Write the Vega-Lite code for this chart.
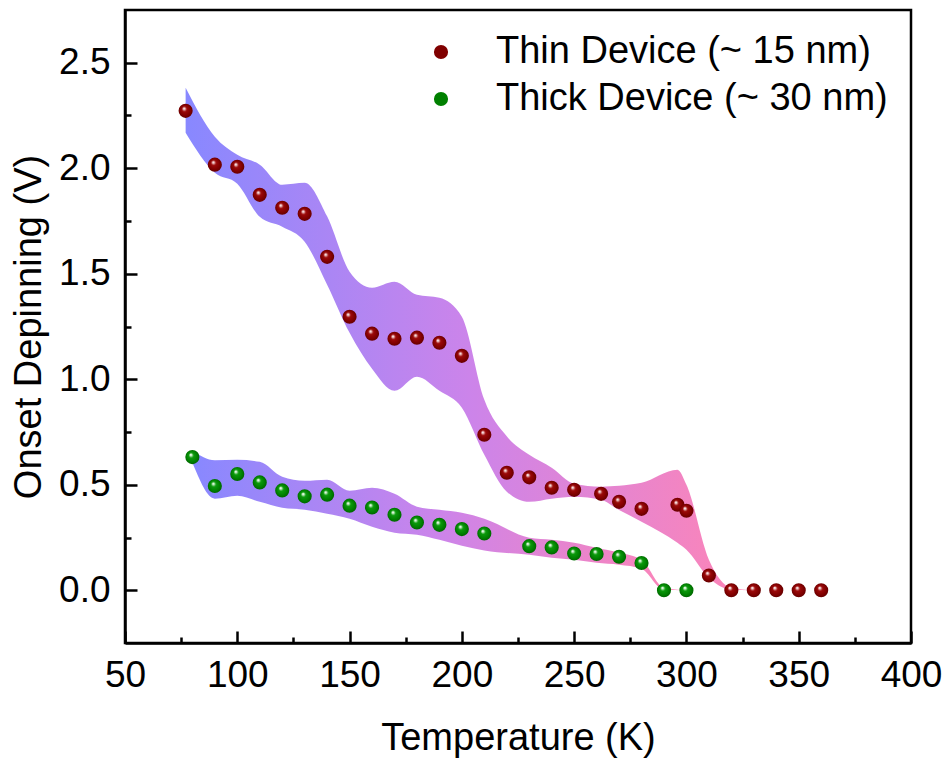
{
  "$schema": "https://vega.github.io/schema/vega-lite/v6.json",
  "width": 786,
  "height": 633,
  "autosize": {"type": "none"},
  "padding": {"left": 125, "top": 10, "right": 39, "bottom": 119},
  "background": "white",
  "config": {
    "view": {"stroke": "black", "strokeWidth": 2.5},
    "font": "Liberation Sans",
    "axis": {
      "domainColor": "black",
      "domainWidth": 2.5,
      "tickColor": "black",
      "tickWidth": 2.5,
      "grid": false,
      "labelFont": "Liberation Sans",
      "labelColor": "black",
      "titleFont": "Liberation Sans",
      "titleColor": "black",
      "titleFontWeight": "normal"
    },
    "legend": {
      "title": null,
      "orient": "none",
      "legendX": 297,
      "legendY": 23,
      "labelFont": "Liberation Sans",
      "labelFontSize": 38,
      "labelColor": "black",
      "labelOffset": 36,
      "labelLimit": 600,
      "symbolSize": 200,
      "symbolType": "circle",
      "symbolStrokeWidth": 0,
      "symbolOpacity": 1,
      "rowPadding": 9,
      "padding": 0
    }
  },
  "data": {
    "values": [
      {"device": "Thin Device (~ 15 nm)", "T": 77, "V": 2.272, "lo": 2.168, "hi": 2.381},
      {"device": "Thin Device (~ 15 nm)", "T": 90, "V": 2.017, "lo": 1.979, "hi": 2.149},
      {"device": "Thin Device (~ 15 nm)", "T": 100, "V": 2.007, "lo": 1.927, "hi": 2.064},
      {"device": "Thin Device (~ 15 nm)", "T": 110, "V": 1.874, "lo": 1.77, "hi": 2.017},
      {"device": "Thin Device (~ 15 nm)", "T": 120, "V": 1.813, "lo": 1.723, "hi": 1.922},
      {"device": "Thin Device (~ 15 nm)", "T": 130, "V": 1.784, "lo": 1.652, "hi": 1.931},
      {"device": "Thin Device (~ 15 nm)", "T": 140, "V": 1.58, "lo": 1.448, "hi": 1.772},
      {"device": "Thin Device (~ 15 nm)", "T": 150, "V": 1.296, "lo": 1.22, "hi": 1.51},
      {"device": "Thin Device (~ 15 nm)", "T": 160, "V": 1.216, "lo": 1.05, "hi": 1.434},
      {"device": "Thin Device (~ 15 nm)", "T": 170, "V": 1.192, "lo": 0.945, "hi": 1.462},
      {"device": "Thin Device (~ 15 nm)", "T": 180, "V": 1.197, "lo": 1.012, "hi": 1.4},
      {"device": "Thin Device (~ 15 nm)", "T": 190, "V": 1.173, "lo": 0.945, "hi": 1.386},
      {"device": "Thin Device (~ 15 nm)", "T": 200, "V": 1.111, "lo": 0.865, "hi": 1.296},
      {"device": "Thin Device (~ 15 nm)", "T": 210, "V": 0.737, "lo": 0.642, "hi": 0.903},
      {"device": "Thin Device (~ 15 nm)", "T": 220, "V": 0.557, "lo": 0.467, "hi": 0.73},
      {"device": "Thin Device (~ 15 nm)", "T": 230, "V": 0.535, "lo": 0.419, "hi": 0.642},
      {"device": "Thin Device (~ 15 nm)", "T": 240, "V": 0.486, "lo": 0.434, "hi": 0.581},
      {"device": "Thin Device (~ 15 nm)", "T": 250, "V": 0.476, "lo": 0.443, "hi": 0.505},
      {"device": "Thin Device (~ 15 nm)", "T": 262, "V": 0.457, "lo": 0.429, "hi": 0.491},
      {"device": "Thin Device (~ 15 nm)", "T": 270, "V": 0.419, "lo": 0.38, "hi": 0.495},
      {"device": "Thin Device (~ 15 nm)", "T": 280, "V": 0.386, "lo": 0.325, "hi": 0.509},
      {"device": "Thin Device (~ 15 nm)", "T": 296, "V": 0.405, "lo": 0.225, "hi": 0.571},
      {"device": "Thin Device (~ 15 nm)", "T": 300, "V": 0.377, "lo": 0.192, "hi": 0.5},
      {"device": "Thin Device (~ 15 nm)", "T": 310, "V": 0.07, "lo": 0.059, "hi": 0.145},
      {"device": "Thin Device (~ 15 nm)", "T": 320, "V": 0, "lo": 0.002, "hi": 0.012},
      {"device": "Thin Device (~ 15 nm)", "T": 330, "V": 0, "lo": 0, "hi": 0},
      {"device": "Thin Device (~ 15 nm)", "T": 340, "V": 0, "lo": null, "hi": null},
      {"device": "Thin Device (~ 15 nm)", "T": 350, "V": 0, "lo": null, "hi": null},
      {"device": "Thin Device (~ 15 nm)", "T": 360, "V": 0, "lo": null, "hi": null},
      {"device": "Thick Device (~ 30 nm)", "T": 80, "V": 0.631, "lo": 0.605, "hi": 0.661},
      {"device": "Thick Device (~ 30 nm)", "T": 90, "V": 0.494, "lo": 0.434, "hi": 0.616},
      {"device": "Thick Device (~ 30 nm)", "T": 100, "V": 0.551, "lo": 0.448, "hi": 0.618},
      {"device": "Thick Device (~ 30 nm)", "T": 110, "V": 0.511, "lo": 0.419, "hi": 0.609},
      {"device": "Thick Device (~ 30 nm)", "T": 120, "V": 0.473, "lo": 0.391, "hi": 0.538},
      {"device": "Thick Device (~ 30 nm)", "T": 130, "V": 0.445, "lo": 0.382, "hi": 0.519},
      {"device": "Thick Device (~ 30 nm)", "T": 140, "V": 0.453, "lo": 0.363, "hi": 0.524},
      {"device": "Thick Device (~ 30 nm)", "T": 150, "V": 0.401, "lo": 0.339, "hi": 0.472},
      {"device": "Thick Device (~ 30 nm)", "T": 160, "V": 0.392, "lo": 0.301, "hi": 0.486},
      {"device": "Thick Device (~ 30 nm)", "T": 170, "V": 0.358, "lo": 0.273, "hi": 0.457},
      {"device": "Thick Device (~ 30 nm)", "T": 180, "V": 0.321, "lo": 0.263, "hi": 0.396},
      {"device": "Thick Device (~ 30 nm)", "T": 190, "V": 0.31, "lo": 0.239, "hi": 0.381},
      {"device": "Thick Device (~ 30 nm)", "T": 200, "V": 0.29, "lo": 0.211, "hi": 0.367},
      {"device": "Thick Device (~ 30 nm)", "T": 210, "V": 0.269, "lo": 0.188, "hi": 0.339},
      {"device": "Thick Device (~ 30 nm)", "T": 230, "V": 0.209, "lo": 0.168, "hi": 0.249},
      {"device": "Thick Device (~ 30 nm)", "T": 240, "V": 0.203, "lo": 0.154, "hi": 0.239},
      {"device": "Thick Device (~ 30 nm)", "T": 250, "V": 0.174, "lo": 0.145, "hi": 0.225},
      {"device": "Thick Device (~ 30 nm)", "T": 260, "V": 0.172, "lo": 0.13, "hi": 0.201},
      {"device": "Thick Device (~ 30 nm)", "T": 270, "V": 0.159, "lo": 0.121, "hi": 0.178},
      {"device": "Thick Device (~ 30 nm)", "T": 280, "V": 0.129, "lo": 0.102, "hi": 0.145},
      {"device": "Thick Device (~ 30 nm)", "T": 290, "V": 0, "lo": 0.002, "hi": 0.012},
      {"device": "Thick Device (~ 30 nm)", "T": 300, "V": 0, "lo": 0, "hi": 0}
    ]
  },
  "resolve": {"axis": {"x": "independent", "y": "independent"}},
  "layer": [
    {
      "transform": [{"filter": "isValid(datum.hi)"}],
      "mark": {
        "type": "area",
        "interpolate": "monotone",
        "fill": {
          "gradient": "linear",
          "x1": 0, "y1": 0, "x2": 1, "y2": 0,
          "stops": [
            {"offset": 0, "color": "#8888ff"},
            {"offset": 0.5, "color": "#cc84ea"},
            {"offset": 1, "color": "#ff85b5"}
          ]
        }
      },
      "encoding": {
        "x": {
          "field": "T", "type": "quantitative",
          "scale": {"domain": [50, 400], "nice": false, "zero": false},
          "axis": {
            "orient": "bottom",
            "title": "Temperature (K)",
            "titleFontSize": 38,
            "titlePadding": 26,
            "values": [50, 100, 150, 200, 250, 300, 350, 400],
            "labelFontSize": 37,
            "labelPadding": 26,
            "tickSize": -12,
            "labelFlush": false,
            "labelOverlap": false
          }
        },
        "y": {
          "field": "lo", "type": "quantitative",
          "scale": {"domain": [-0.25, 2.75], "nice": false, "zero": false},
          "axis": {
            "orient": "left",
            "title": "Onset Depinning (V)",
            "titleFontSize": 38,
            "titlePadding": 10,
            "values": [0, 0.5, 1, 1.5, 2, 2.5],
            "format": ".1f",
            "labelFontSize": 37,
            "labelPadding": 27,
            "tickSize": -12,
            "labelOverlap": false
          }
        },
        "y2": {"field": "hi"},
        "detail": {"field": "device"}
      }
    },
    {
      "mark": {"type": "tick", "opacity": 0},
      "encoding": {
        "x": {
          "field": "T", "type": "quantitative",
          "axis": {
            "orient": "bottom",
            "title": null,
            "labels": false,
            "domain": false,
            "values": [75, 125, 175, 225, 275, 325, 375],
            "tickSize": -6
          }
        },
        "y": {
          "field": "V", "type": "quantitative",
          "axis": {
            "orient": "left",
            "title": null,
            "labels": false,
            "domain": false,
            "values": [0.25, 0.75, 1.25, 1.75, 2.25],
            "tickSize": -6
          }
        }
      }
    },
    {
      "transform": [{"filter": "datum.device === 'Thin Device (~ 15 nm)'"}],
      "mark": {
        "type": "point", "filled": true, "size": 200, "opacity": 1, "strokeWidth": 0,
        "fill": {
          "gradient": "radial",
          "x1": 0.38, "y1": 0.32, "r1": 0,
          "x2": 0.5, "y2": 0.5, "r2": 0.55,
          "stops": [
            {"offset": 0, "color": "#ffffff"},
            {"offset": 0.1, "color": "#f4d6d6"},
            {"offset": 0.32, "color": "#9c0a0a"},
            {"offset": 0.7, "color": "#800000"},
            {"offset": 1, "color": "#5c0000"}
          ]
        }
      },
      "encoding": {
        "x": {"field": "T", "type": "quantitative", "axis": null},
        "y": {"field": "V", "type": "quantitative", "axis": null},
        "color": {
          "field": "device", "type": "nominal",
          "scale": {
            "domain": ["Thin Device (~ 15 nm)", "Thick Device (~ 30 nm)"],
            "range": ["#800000", "#008000"]
          }
        }
      }
    },
    {
      "transform": [{"filter": "datum.device === 'Thick Device (~ 30 nm)'"}],
      "mark": {
        "type": "point", "filled": true, "size": 200, "opacity": 1, "strokeWidth": 0,
        "fill": {
          "gradient": "radial",
          "x1": 0.38, "y1": 0.32, "r1": 0,
          "x2": 0.5, "y2": 0.5, "r2": 0.55,
          "stops": [
            {"offset": 0, "color": "#ffffff"},
            {"offset": 0.1, "color": "#d8f4d8"},
            {"offset": 0.32, "color": "#0c9a0c"},
            {"offset": 0.7, "color": "#008000"},
            {"offset": 1, "color": "#005c00"}
          ]
        }
      },
      "encoding": {
        "x": {"field": "T", "type": "quantitative", "axis": null},
        "y": {"field": "V", "type": "quantitative", "axis": null},
        "color": {"field": "device", "type": "nominal"}
      }
    }
  ]
}
